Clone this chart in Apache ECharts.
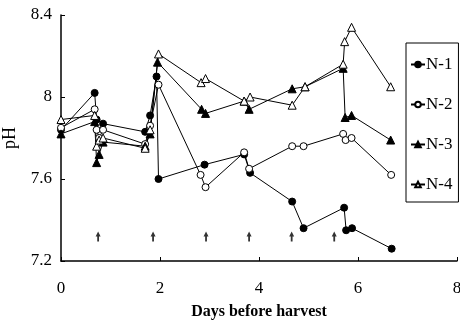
<!DOCTYPE html>
<html>
<head>
<meta charset="utf-8">
<script src="https://cdn.jsdelivr.net/npm/echarts@6/dist/echarts.min.js"></script>
<style>
  html, body { margin: 0; padding: 0; background: #fff; }
  #chart { width: 460px; height: 330px; }
</style>
</head>
<body>
<div id="chart"></div>
<script>
// pH readings, [days before harvest, pH]
const n1 = [[0, 7.84], [0.68, 8.02], [0.72, 7.89], [0.85, 7.87], [1.7, 7.83], [1.8, 7.91],
  [1.93, 8.1], [1.97, 7.6], [2.9, 7.67], [3.7, 7.72], [3.82, 7.63], [4.67, 7.49],
  [4.9, 7.36], [5.72, 7.46], [5.76, 7.35], [5.88, 7.36], [6.68, 7.26]]
const n2 = [[0, 7.85], [0.68, 7.94], [0.72, 7.84], [0.77, 7.8], [0.85, 7.84], [1.7, 7.77],
  [1.8, 7.86], [1.97, 8.06], [2.82, 7.62], [2.92, 7.56], [3.7, 7.73], [3.8, 7.65],
  [4.67, 7.76], [4.9, 7.76], [5.7, 7.82], [5.75, 7.79], [5.87, 7.8], [6.67, 7.62]]
const n3 = [[0, 7.82], [0.68, 7.88], [0.72, 7.68], [0.77, 7.72], [0.85, 7.78], [1.7, 7.76],
  [1.8, 7.82], [1.95, 8.17], [2.84, 7.94], [2.92, 7.92], [3.7, 7.98], [3.8, 7.94],
  [4.67, 8.04], [4.93, 8.05], [5.7, 8.14], [5.74, 7.9], [5.87, 7.91], [6.66, 7.79]]
const n4 = [[0, 7.89], [0.68, 7.91], [0.72, 7.76], [0.77, 7.79], [0.85, 7.8], [1.7, 7.75],
  [1.8, 7.84], [1.97, 8.21], [2.83, 8.07], [2.92, 8.09], [3.7, 7.98], [3.82, 8.0],
  [4.67, 7.96], [4.93, 8.05], [5.7, 8.16], [5.73, 8.27], [5.87, 8.34], [6.66, 8.05]]
// small arrows near the bottom
const arrowDays = [0.75, 1.86, 2.93, 3.8, 4.66, 5.52]
const arrowLevel = 7.32

const xTicks = { min: 0, max: 8, interval: 2 }
const yTicks = { min: 7.2, max: 8.4, interval: 0.4 }

const font = 'Liberation Serif'

function lineSeries(name, data, symbol, filled) {
  return {
    name: name,
    type: 'line',
    data: data,
    symbol: symbol,
    symbolSize: symbol === 'triangle' ? 8 : 7,
    showAllSymbol: true,
    lineStyle: { color: '#000', width: 1 },
    itemStyle: { color: filled ? '#000' : '#fff', borderColor: '#000', borderWidth: 1 },
    z: 3
  }
}

const chart = echarts.init(document.getElementById('chart'))
chart.setOption({
  animation: false,
  backgroundColor: '#fff',
  textStyle: { fontFamily: font, color: '#000' },
  grid: { left: 61, right: 3, top: 15, bottom: 69, containLabel: false, outerBoundsMode: 'none' },
  legend: {
    orient: 'vertical',
    left: 406,
    top: 43,
    data: ['N-1', 'N-2', 'N-3', 'N-4'],
    itemWidth: 14,
    itemHeight: 7,
    itemGap: 23,
    padding: [13, 6, 9, 4],
    borderColor: '#000',
    borderWidth: 1,
    textStyle: { fontFamily: font, fontSize: 17, color: '#000', padding: [0, 0, 0, -4] }
  },
  xAxis: {
    type: 'value',
    min: xTicks.min,
    max: xTicks.max,
    interval: xTicks.interval,
    name: 'Days before harvest',
    nameLocation: 'middle',
    nameGap: 43,
    nameTextStyle: { fontFamily: font, fontSize: 16, fontWeight: 'bold', color: '#000' },
    axisLine: { lineStyle: { color: '#000', width: 1.5 } },
    axisTick: { inside: true, length: 4, lineStyle: { color: '#000' } },
    axisLabel: { fontFamily: font, fontSize: 17, color: '#000', margin: 19 },
    splitLine: { show: false }
  },
  yAxis: {
    type: 'value',
    min: yTicks.min,
    max: yTicks.max,
    interval: yTicks.interval,
    name: 'pH',
    nameLocation: 'middle',
    nameGap: 42,
    nameTextStyle: { fontFamily: font, fontSize: 18, color: '#000' },
    axisLine: { show: true, lineStyle: { color: '#000', width: 1.5 } },
    axisTick: { show: true, inside: true, length: 4, lineStyle: { color: '#000' } },
    axisLabel: {
      fontFamily: font, fontSize: 17, color: '#000', margin: 9,
      formatter: v => (Math.abs(v - 8) < 1e-6 ? '8' : v.toFixed(1))
    },
    splitLine: { show: false }
  },
  series: [
    lineSeries('N-1', n1, 'circle', true),
    lineSeries('N-2', n2, 'circle', false),
    lineSeries('N-3', n3, 'triangle', true),
    lineSeries('N-4', n4, 'triangle', false),
    {
      name: 'arrows',
      type: 'scatter',
      data: arrowDays.map(d => [d, arrowLevel]),
      symbol: 'path://M2.5,0 L5,5 L3.4,5 L3.4,10 L1.6,10 L1.6,5 L0,5 Z',
      symbolSize: [5, 10],
      itemStyle: { color: '#000' },
      silent: true
    }
  ]
})
</script>
</body>
</html>
